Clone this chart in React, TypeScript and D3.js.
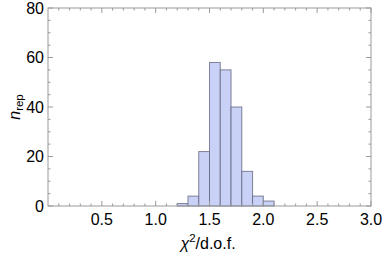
import * as d3 from "d3";

const width = 382;
const height = 255;

// histogram bins (left edge, width 0.1) and counts
const binStarts = [1.2, 1.3, 1.4, 1.5, 1.6, 1.7, 1.8, 1.9, 2.0];
const counts = [1, 4, 22, 58, 55, 40, 14, 4, 2];
const binWidth = 0.1;

const xTicks = [0.5, 1.0, 1.5, 2.0, 2.5, 3.0];
const yTicks = [0, 20, 40, 60, 80];

const margin = { left: 48, right: 11, top: 8, bottom: 49 };
const font = "'Liberation Sans', Arial, sans-serif";

const App = () => {
  const x = d3.scaleLinear().domain([0, 3]).range([margin.left, width - margin.right]);
  const y = d3.scaleLinear().domain([0, 80]).range([height - margin.bottom, margin.top]);
  const [x0, x1] = x.range();
  const [y0, y1] = y.range();

  const xMinor = d3.range(1, 30).map(i => i / 10).filter(v => Math.abs(v * 2 - Math.round(v * 2)) > 1e-6);
  const yMinor = d3.range(5, 80, 5).filter(v => v % 20 !== 0);

  return (
    <svg width={width} height={height} style={{ position: "absolute", left: 0, top: 0 }}>
      {binStarts.map((b, i) => (
        <rect
          key={b}
          x={x(b)}
          y={y(counts[i])}
          width={x(b + binWidth) - x(b)}
          height={y(0) - y(counts[i])}
          fill="#c9d1f6"
          stroke="#5c5f78"
          strokeOpacity={0.75}
          strokeWidth={1}
        />
      ))}
      <rect x={x0} y={y1} width={x1 - x0} height={y0 - y1} fill="none" stroke="#9a9a9a" strokeWidth={1} />
      {/* major/minor ticks on all four sides */}
      {xTicks.map(t => (
        <g key={"xt" + t} stroke="#9a9a9a">
          <line x1={x(t)} x2={x(t)} y1={y0} y2={y0 - 5} />
          <line x1={x(t)} x2={x(t)} y1={y1} y2={y1 + 5} />
        </g>
      ))}
      {xMinor.map(t => (
        <g key={"xm" + t} stroke="#9a9a9a">
          <line x1={x(t)} x2={x(t)} y1={y0} y2={y0 - 2.5} />
          <line x1={x(t)} x2={x(t)} y1={y1} y2={y1 + 2.5} />
        </g>
      ))}
      {yTicks.map(t => (
        <g key={"yt" + t} stroke="#9a9a9a">
          <line x1={x0} x2={x0 + 5} y1={y(t)} y2={y(t)} />
          <line x1={x1} x2={x1 - 5} y1={y(t)} y2={y(t)} />
        </g>
      ))}
      {yMinor.map(t => (
        <g key={"ym" + t} stroke="#9a9a9a">
          <line x1={x0} x2={x0 + 2.5} y1={y(t)} y2={y(t)} />
          <line x1={x1} x2={x1 - 2.5} y1={y(t)} y2={y(t)} />
        </g>
      ))}
      {xTicks.map(t => (
        <text key={"xl" + t} x={x(t)} y={y0 + 19} textAnchor="middle" fontFamily={font} fontSize={16} fill="#000">
          {t.toFixed(1)}
        </text>
      ))}
      {yTicks.map(t => (
        <text key={"yl" + t} x={x0 - 4} y={y(t) + 5.8} textAnchor="end" fontFamily={font} fontSize={16} fill="#000">
          {t}
        </text>
      ))}
      <text x={208} y={249} textAnchor="middle" fontFamily={font} fontSize={16} fill="#000">
        <tspan fontStyle="italic">χ</tspan>
        <tspan fontSize={11.5} dy={-7}>2</tspan>
        <tspan dy={7}>/d.o.f.</tspan>
      </text>
      <text transform="translate(20,107) rotate(-90)" textAnchor="middle" fontFamily={font} fontSize={16} fill="#000">
        <tspan fontStyle="italic">n</tspan>
        <tspan fontSize={11.5} dy={3}>rep</tspan>
      </text>
    </svg>
  );
};

export default App;
